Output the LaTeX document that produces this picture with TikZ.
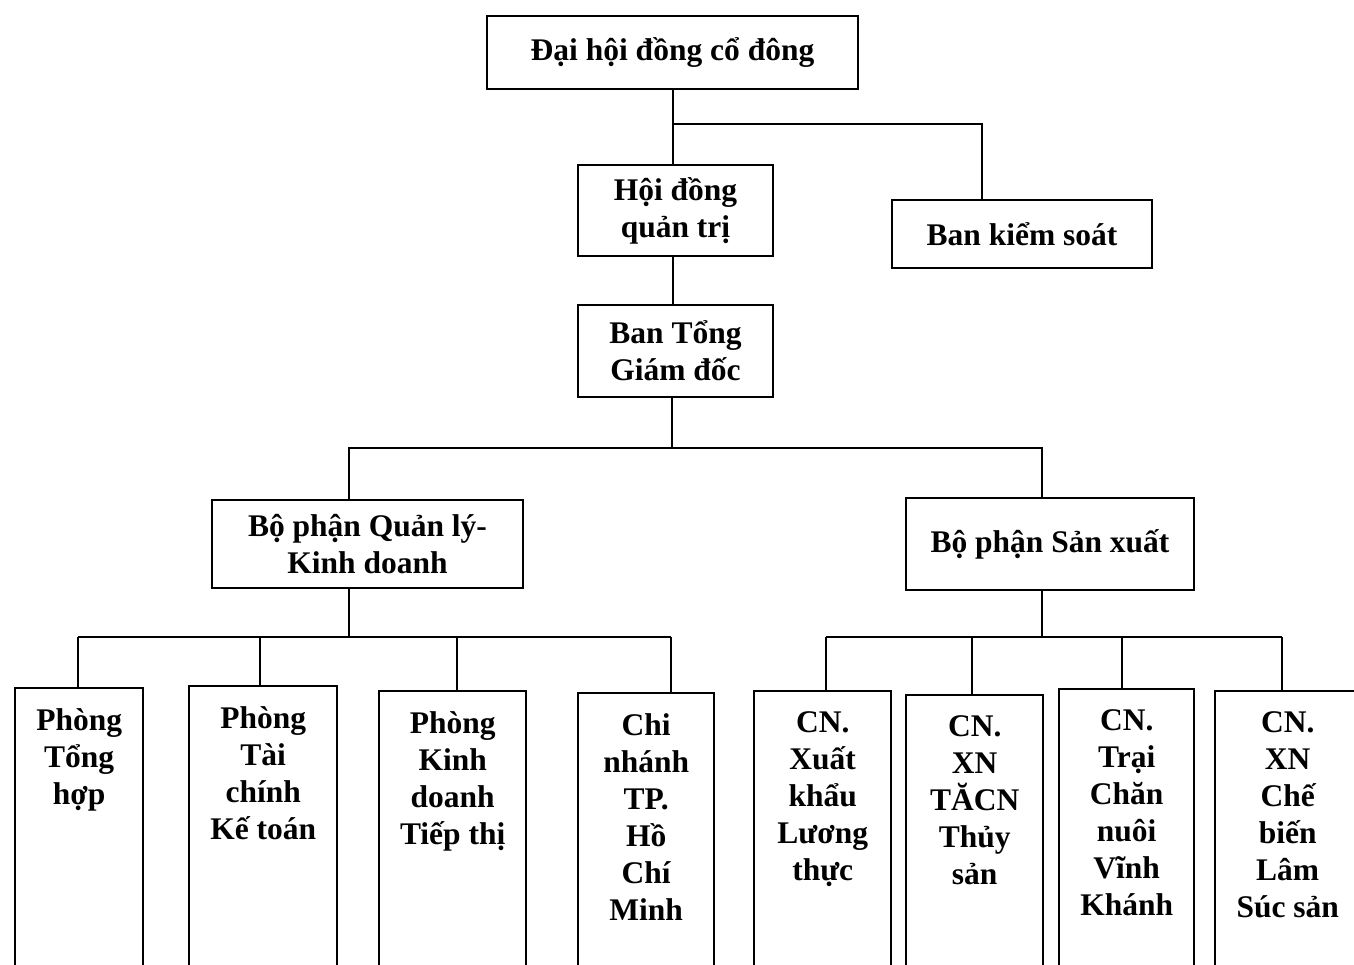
\documentclass[tikz,border=0pt]{standalone}
\usepackage{fontspec}
\setmainfont{Liberation Serif}
\begin{document}
\begin{tikzpicture}[x=1pt,y=-1pt,
  box/.style={draw,line width=2.4pt,inner sep=0pt,align=center,
    font=\bfseries\fontsize{31.5}{37}\selectfont},
  tall/.style={draw,line width=2.4pt,inner sep=0pt,anchor=north west,
    font=\bfseries\fontsize{31.5}{37}\selectfont},
  conn/.style={line width=2pt}]
\useasboundingbox (0,0) rectangle (1354,964);
\clip (0,0) rectangle (1354,964);
\newcommand{\tallbox}[5]{%
  \node[tall] (#1) at (#2,#3) {\parbox[t][330pt][t]{#4pt}{\centering\vspace*{20pt}#5}};}
% upper levels
\node[box,minimum width=371pt,minimum height=73pt] (n1) at (672.5,52.5) {\raisebox{-2pt}{Đại hội đồng cổ đông}};
\node[box,minimum width=195pt,minimum height=91pt] (n2) at (675.5,210.5) {Hội đồng\\quản trị};
\node[box,minimum width=260pt,minimum height=68pt] (n3) at (1022,234) {Ban kiểm soát};
\node[box,minimum width=195pt,minimum height=92pt] (n4) at (675.5,351) {Ban Tổng\\Giám đốc};
\node[box,minimum width=311pt,minimum height=88pt] (n5) at (367.5,544) {Bộ phận Quản lý-\\Kinh doanh};
\node[box,minimum width=288pt,minimum height=92pt] (n6) at (1050,544) {Bộ phận Sản xuất};
% bottom level
\tallbox{p1}{14}{687}{128}{Phòng\\Tổng\\hợp}
\tallbox{p2}{188}{685}{148}{Phòng\\Tài\\chính\\Kế toán}
\tallbox{p3}{378}{690}{147}{Phòng\\Kinh\\doanh\\Tiếp thị}
\tallbox{p4}{577}{692}{136}{Chi\\nhánh\\TP.\\Hồ\\Chí\\Minh}
\tallbox{s1}{753}{690}{137}{CN.\\Xuất\\khẩu\\Lương\\thực}
\tallbox{s2}{905}{694}{137}{CN.\\XN\\TĂCN\\Thủy\\sản}
\tallbox{s3}{1058}{688}{135}{CN.\\Trại\\Chăn\\nuôi\\Vĩnh\\Khánh}
\tallbox{s4}{1214}{690}{145}{CN.\\XN\\Chế\\biến\\Lâm\\Súc sản}
% junction coordinates
\coordinate (a1) at (673,124);
\coordinate (a2) at (982,124);
\coordinate (b0) at (672,448);
\coordinate (b1) at (349,448);
\coordinate (b2) at (1042,448);
\coordinate (c0) at (349,637);
\coordinate (c1) at (78,637);
\coordinate (c2) at (260,637);
\coordinate (c3) at (457,637);
\coordinate (c4) at (671,637);
\coordinate (d0) at (1042,637);
\coordinate (d1) at (826,637);
\coordinate (d2) at (972,637);
\coordinate (d3) at (1122,637);
\coordinate (d4) at (1282,637);
% connectors
\draw[conn] (a1 |- n1.south) -- (a1 |- n2.north);
\draw[conn] (a1) -- (a2) -- (a2 |- n3.north);
\draw[conn] (a1 |- n2.south) -- (a1 |- n4.north);
\draw[conn] (b0 |- n4.south) -- (b0);
\draw[conn] (b1 |- n5.north) -- (b1) -- (b2) -- (b2 |- n6.north);
\draw[conn] (c0 |- n5.south) -- (c0);
\draw[conn] (c1) -- (c4);
\draw[conn] (c1) -- (c1 |- p1.north);
\draw[conn] (c2) -- (c2 |- p2.north);
\draw[conn] (c3) -- (c3 |- p3.north);
\draw[conn] (c4) -- (c4 |- p4.north);
\draw[conn] (d0 |- n6.south) -- (d0);
\draw[conn] (d1) -- (d4);
\draw[conn] (d1) -- (d1 |- s1.north);
\draw[conn] (d2) -- (d2 |- s2.north);
\draw[conn] (d3) -- (d3 |- s3.north);
\draw[conn] (d4) -- (d4 |- s4.north);
\end{tikzpicture}
\end{document}
